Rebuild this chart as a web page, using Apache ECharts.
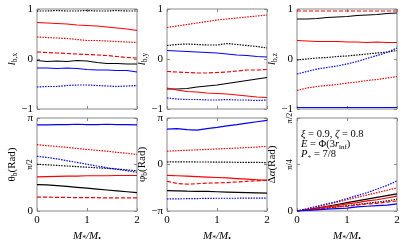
<!DOCTYPE html>
<html><head><meta charset="utf-8">
<script src="https://cdn.jsdelivr.net/npm/echarts@6/dist/echarts.min.js"></script>
<style>html,body{margin:0;padding:0;background:#fff}#c{width:407px;height:244px}</style>
</head><body><div id="c"></div>
<script>
// ---------- data ----------
const X = [0, 0.2, 0.4, 0.6, 0.8, 1.0, 1.2, 1.4, 1.6, 1.8, 2.0];

// l_b,x
const lbx_ks = [-0.03,-0.05,-0.04,-0.05,-0.03,-0.04,-0.07,-0.09,-0.09,-0.10,-0.10];
const lbx_kd = [0.96,0.96,0.97,0.96,0.96,0.97,0.96,0.96,0.97,0.96,0.96];
const lbx_rs = [0.73,0.72,0.71,0.70,0.68,0.67,0.66,0.64,0.62,0.60,0.57];
const lbx_rd = [0.44,0.43,0.42,0.41,0.39,0.37,0.37,0.36,0.35,0.34,0.33];
const lbx_rh = [0.14,0.13,0.12,0.11,0.10,0.09,0.08,0.07,0.05,0.03,0.02];
const lbx_bs = [-0.18,-0.18,-0.19,-0.18,-0.19,-0.21,-0.22,-0.22,-0.23,-0.23,-0.26];
const lbx_bd = [-0.56,-0.55,-0.55,-0.53,-0.52,-0.52,-0.53,-0.54,-0.55,-0.54,-0.53];

// l_b,y
const lby_ks = [-0.60,-0.60,-0.59,-0.56,-0.54,-0.52,-0.49,-0.46,-0.43,-0.40,-0.37];
const lby_kd = [0.27,0.29,0.30,0.29,0.28,0.28,0.31,0.29,0.27,0.25,0.22];
const lby_rs = [-0.58,-0.62,-0.65,-0.66,-0.68,-0.69,-0.70,-0.72,-0.74,-0.76,-0.77];
const lby_rd = [0.63,0.66,0.69,0.72,0.75,0.78,0.80,0.82,0.84,0.86,0.88];
const lby_rh = [-0.25,-0.26,-0.27,-0.28,-0.28,-0.27,-0.26,-0.24,-0.22,-0.22,-0.21];
const lby_bs = [0.17,0.16,0.15,0.14,0.13,0.12,0.10,0.08,0.07,0.05,0.04];
const lby_bd = [-0.78,-0.80,-0.81,-0.81,-0.82,-0.82,-0.81,-0.82,-0.82,-0.83,-0.82];

// l_b,z
const lbz_ks = [0.80,0.80,0.81,0.83,0.84,0.85,0.87,0.88,0.89,0.91,0.92];
const lbz_kd = [-0.02,0.00,0.02,0.03,0.05,0.06,0.08,0.10,0.12,0.14,0.17];
const lbz_rs = [0.37,0.36,0.35,0.35,0.35,0.34,0.34,0.33,0.34,0.33,0.33];
const lbz_rd = [-0.63,-0.58,-0.55,-0.53,-0.51,-0.48,-0.46,-0.43,-0.41,-0.38,-0.35];
const lbz_rh = [0.96,0.96,0.96,0.96,0.96,0.96,0.96,0.96,0.96,0.96,0.96];
const lbz_bs = [-0.97,-0.97,-0.97,-0.97,-0.97,-0.97,-0.97,-0.97,-0.97,-0.97,-0.97];
const lbz_bd = [-0.30,-0.25,-0.20,-0.17,-0.14,-0.10,-0.05,0.01,0.07,0.13,0.22];

// theta_b (rad)
const th_ks = [0.89,0.88,0.86,0.83,0.80,0.77,0.74,0.71,0.68,0.65,0.62];
const th_kd = [1.58,1.56,1.54,1.52,1.50,1.48,1.46,1.44,1.42,1.39,1.36];
const th_rs = [1.15,1.16,1.17,1.18,1.18,1.19,1.19,1.19,1.20,1.20,1.20];
const th_rd = [2.24,2.21,2.18,2.15,2.11,2.08,2.05,2.02,1.98,1.95,1.91];
const th_rh = [0.47,0.47,0.46,0.46,0.45,0.45,0.45,0.44,0.44,0.44,0.44];
const th_bs = [2.91,2.91,2.92,2.92,2.93,2.92,2.92,2.93,2.92,2.92,2.91];
const th_bd = [1.85,1.81,1.76,1.70,1.64,1.58,1.52,1.46,1.41,1.36,1.31];

// phi_b (rad)
const ph_ks = [-1.77,-1.78,-1.80,-1.81,-1.82,-1.84,-1.86,-1.88,-1.90,-1.92,-1.94];
const ph_kd = [0.17,0.18,0.18,0.17,0.17,0.16,0.16,0.15,0.14,0.14,0.13];
const ph_rs = [-0.74,-0.76,-0.79,-0.82,-0.85,-0.88,-0.91,-0.95,-0.99,-1.03,-1.07];
const ph_rd = [0.90,0.93,0.96,0.99,1.02,1.05,1.08,1.11,1.14,1.18,1.22];
const ph_rh = [-1.13,-1.28,-1.33,-1.30,-1.26,-1.24,-1.22,-1.18,-1.14,-1.10,-1.06];
const ph_bs = [2.39,2.42,2.36,2.32,2.42,2.51,2.61,2.70,2.80,2.89,2.98];
const ph_bd = [-2.33,-2.32,-2.31,-2.30,-2.29,-2.28,-2.28,-2.28,-2.27,-2.27,-2.27];

// delta alpha (rad)
const da_ks = [0,0.02,0.05,0.08,0.11,0.14,0.17,0.20,0.23,0.26,0.29];
const da_kd = [0,0.02,0.04,0.05,0.07,0.09,0.11,0.13,0.15,0.17,0.20];
const da_rs = [0,0.02,0.04,0.07,0.09,0.12,0.14,0.17,0.19,0.22,0.25];
const da_rd = [0,0.03,0.07,0.11,0.15,0.19,0.23,0.27,0.31,0.35,0.39];
const da_rh = [0,0.01,0.03,0.05,0.07,0.08,0.10,0.12,0.13,0.15,0.17];
const da_bs = [0,0.01,0.02,0.03,0.04,0.05,0.07,0.08,0.09,0.10,0.12];
const da_bd = [0,0.04,0.08,0.12,0.16,0.21,0.26,0.31,0.37,0.43,0.51];

const xTicks = ['0','1','2'];

// ---------- chart ----------
const FONT = 'Liberation Serif';
const STY = {
  ks:{color:'#000000', type:'solid'},
  kd:{color:'#000000', type:[1.5,1.2]},
  rs:{color:'#ff0000', type:'solid'},
  rd:{color:'#ff0000', type:[1.5,1.2]},
  rh:{color:'#ff0000', type:[4,2]},
  bs:{color:'#0000ff', type:'solid'},
  bd:{color:'#0000ff', type:[1.5,1.2]}
};
const PI = Math.PI;
const panels = [
  {grid:{left:37,top:9,width:100,height:100}, data:{ks:lbx_ks,kd:lbx_kd,rs:lbx_rs,rd:lbx_rd,rh:lbx_rh,bs:lbx_bs,bd:lbx_bd},
   min:-1,max:1,interval:1, fmt:v=>v===1?'1':(v===0?'0':'\u22121'), name:'{i|l}{s|b,x}', bottom:false},
  {grid:{left:167,top:9,width:100,height:100}, data:{ks:lby_ks,kd:lby_kd,rs:lby_rs,rd:lby_rd,rh:lby_rh,bs:lby_bs,bd:lby_bd},
   min:-1,max:1,interval:1, fmt:v=>v===1?'1':(v===0?'0':'\u22121'), name:'{i|l}{s|b,y}', bottom:false},
  {grid:{left:297,top:9,width:100,height:100}, data:{ks:lbz_ks,kd:lbz_kd,rs:lbz_rs,rd:lbz_rd,rh:lbz_rh,bs:lbz_bs,bd:lbz_bd},
   min:-1,max:1,interval:1, fmt:v=>v===1?'1':(v===0?'0':'\u22121'), name:'{i|l}{s|b,z}', bottom:false},
  {grid:{left:37,top:118,width:100,height:97}, data:{ks:th_ks,kd:th_kd,rs:th_rs,rd:th_rd,rh:th_rh,bs:th_bs,bd:th_bd},
   min:0,max:PI,interval:PI/2, fmt:v=>v<0.1?'0':(v>3?'\u03c0':''), rot:[[PI/2,'\u03c0/2']], name:'{n|\u03b8}{s|b}{n|(Rad)}', bottom:true},
  {grid:{left:167,top:118,width:100,height:97}, data:{ks:ph_ks,kd:ph_kd,rs:ph_rs,rd:ph_rd,rh:ph_rh,bs:ph_bs,bd:ph_bd},
   min:-PI,max:PI,interval:PI, fmt:v=>Math.abs(v)<0.1?'0':(v>0?'\u03c0':'\u2212\u03c0'), name:'{n|\u03c6}{s|b}{n|(Rad)}', bottom:true},
  {grid:{left:297,top:118,width:100,height:97}, data:{ks:da_ks,kd:da_kd,rs:da_rs,rd:da_rd,rh:da_rh,bs:da_bs,bd:da_bd},
   min:0,max:PI/2,interval:PI/4, fmt:v=>v<0.1?'0':'', rot:[[PI/4,'\u03c0/4'],[PI/2,'\u03c0/2']], name:'{n|\u0394}{i|\u03b1}{n|(Rad)}', bottom:true}
];

const rich = {
  i:{fontFamily:FONT, fontStyle:'italic', fontSize:11, color:'#000', lineHeight:14},
  n:{fontFamily:FONT, fontSize:11, color:'#000', lineHeight:14},
  s:{fontFamily:FONT, fontSize:7.5, color:'#000', lineHeight:14, verticalAlign:'bottom', padding:[3,0,0,0]}
};
const tickStyle = {show:true, inside:true, length:3, lineStyle:{color:'#888'}};
const noLine = {show:false, onZero:false};
const grids=[], xAxes=[], yAxes=[], series=[], yMain=[];
panels.forEach((p,i)=>{
  grids.push(Object.assign({show:true, borderColor:'#888', borderWidth:1, containLabel:false}, p.grid));
  const xb = xAxes.length;
  xAxes.push({gridIndex:i, type:'value', min:0, max:2, interval:1, position:'bottom',
    axisLine:noLine, axisTick:tickStyle, splitLine:{show:false},
    axisLabel:{show:p.bottom, margin:4, fontFamily:FONT, fontSize:11, color:'#000', formatter:v=>xTicks[Math.round(v)]},
    name:p.bottom?'{i|M}{s|*}{i|/M}{s|\u2022}':'', nameLocation:'middle', nameGap:18, nameMoveOverlap:false, nameTextStyle:{rich:rich}});
  xAxes.push({gridIndex:i, type:'value', min:0, max:2, interval:1, position:'top',
    axisLine:noLine, axisTick:tickStyle, splitLine:{show:false}, axisLabel:{show:false}});
  const yl = yAxes.length;
  yMain.push(yl);
  yAxes.push({gridIndex:i, type:'value', min:p.min, max:p.max, interval:p.interval, position:'left',
    axisLine:noLine, axisTick:tickStyle, splitLine:{show:false},
    axisLabel:{margin:4, fontFamily:FONT, fontSize:11, color:'#000', formatter:p.fmt},
    name:p.name, nameLocation:'middle', nameRotate:90, nameGap:18, nameMoveOverlap:false, nameTextStyle:{rich:rich}});
  yAxes.push({gridIndex:i, type:'value', min:p.min, max:p.max, interval:p.interval, position:'right',
    axisLine:noLine, axisTick:tickStyle, splitLine:{show:false}, axisLabel:{show:false}});
  Object.keys(STY).forEach(k=>{
    series.push({type:'line', xAxisIndex:xb, yAxisIndex:yl, symbol:'none', silent:true, animation:false,
      data:X.map((x,j)=>[x,p.data[k][j]]),
      lineStyle:{color:STY[k].color, type:STY[k].type, width:1.2}});
  });
});

const chart = echarts.init(document.getElementById('c'), null, {renderer:'canvas'});
chart.setOption({animation:false, grid:grids, xAxis:xAxes, yAxis:yAxes, series:series});

// rotated fraction tick labels, placed with the axis scale
const graphics = [];
panels.forEach((p,i)=>{
  (p.rot||[]).forEach(([val,txt])=>{
    const py = chart.convertToPixel({yAxisIndex:yMain[i]}, val);
    graphics.push({type:'text', x:p.grid.left-7.5, y:py, rotation:PI/2, silent:true,
      style:{text:txt, align:'center', verticalAlign:'middle', fontFamily:FONT, fontSize:8, fill:'#000'}});
  });
});
const sub = {fontFamily:FONT,fontSize:7,lineHeight:12,verticalAlign:'bottom'};
const ita = {fontFamily:FONT,fontStyle:'italic',fontSize:10.5,lineHeight:12};
graphics.push(
  {type:'text', left:301, top:129, style:{text:'{i|\u03be} = 0.9, {i|\u03b6} = 0.8', rich:{i:ita}, fontFamily:FONT, fontSize:10.5, fill:'#000'}},
  {type:'text', left:301, top:139, style:{text:'{i|E} = \u03a6(3{i|r}{s|inf})', rich:{i:ita, s:sub}, fontFamily:FONT, fontSize:10.5, fill:'#000'}},
  {type:'text', left:301, top:149, style:{text:'{i|P}{s|+} = 7/8', rich:{i:ita, s:sub}, fontFamily:FONT, fontSize:10.5, fill:'#000'}}
);
chart.setOption({graphic:graphics});
</script>
</body></html>
